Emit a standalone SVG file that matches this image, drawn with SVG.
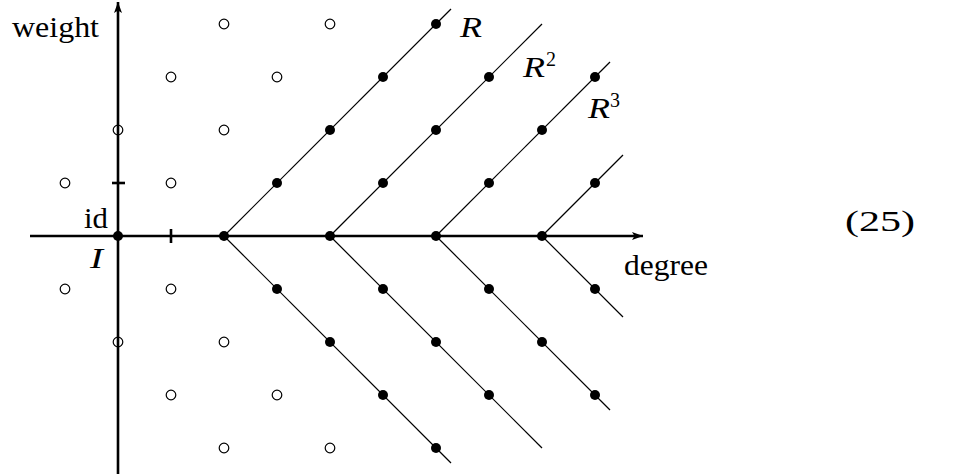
<svg xmlns="http://www.w3.org/2000/svg" width="971" height="474" viewBox="0 0 971 474">
<style>
  .axis { stroke:#000; stroke-width:2.6; fill:none; }
  .tick { stroke:#000; stroke-width:2.6; }
  .ray { stroke:#000; stroke-width:1.2; fill:none; }
  .full { fill:#000; }
  .open { fill:none; stroke:#000; stroke-width:1.2; }
  .t { font-family:"Liberation Serif","Times New Roman",Times,serif; font-size:29px; fill:#000; }
  .it { font-style:italic; font-size:30px; }
  .sup { font-family:"Liberation Serif","Times New Roman",Times,serif; font-size:20px; fill:#000; }
</style>
<defs>
  <marker id="arr" markerWidth="12" markerHeight="10" refX="11" refY="5" orient="auto" markerUnits="userSpaceOnUse">
    <path d="M0,1 L11,5 L0,9 L2.5,5 Z" fill="#000"/>
  </marker>
</defs>
<rect width="971" height="474" fill="#fff"/>

<g id="connectors">
  <line class="ray" x1="224" y1="236" x2="451" y2="9"/>
  <line class="ray" x1="330" y1="236" x2="542" y2="24"/>
  <line class="ray" x1="436" y1="236" x2="610" y2="62"/>
  <line class="ray" x1="542" y1="236" x2="623" y2="155"/>
  <line class="ray" x1="224" y1="236" x2="451" y2="463"/>
  <line class="ray" x1="330" y1="236" x2="542" y2="448"/>
  <line class="ray" x1="436" y1="236" x2="610" y2="410"/>
  <line class="ray" x1="542" y1="236" x2="623" y2="317"/>
</g>

<g id="axes">
  <line class="axis" x1="30" y1="236" x2="643" y2="236" marker-end="url(#arr)"/>
  <line class="axis" x1="118" y1="474" x2="118" y2="2" marker-end="url(#arr)"/>
  <line class="tick" x1="112" y1="183" x2="125" y2="183"/>
  <line class="tick" x1="171" y1="229" x2="171" y2="243"/>
</g>

<g id="open-points">
  <circle class="open" cx="224" cy="24" r="4.8"/>
  <circle class="open" cx="330" cy="24" r="4.8"/>
  <circle class="open" cx="171" cy="77" r="4.8"/>
  <circle class="open" cx="277" cy="77" r="4.8"/>
  <circle class="open" cx="118" cy="130" r="4.8"/>
  <circle class="open" cx="224" cy="130" r="4.8"/>
  <circle class="open" cx="65" cy="183" r="4.8"/>
  <circle class="open" cx="171" cy="183" r="4.8"/>
  <circle class="open" cx="65" cy="289" r="4.8"/>
  <circle class="open" cx="171" cy="289" r="4.8"/>
  <circle class="open" cx="118" cy="342" r="4.8"/>
  <circle class="open" cx="224" cy="342" r="4.8"/>
  <circle class="open" cx="171" cy="395" r="4.8"/>
  <circle class="open" cx="277" cy="395" r="4.8"/>
  <circle class="open" cx="224" cy="448" r="4.8"/>
  <circle class="open" cx="330" cy="448" r="4.8"/>
</g>

<g id="full-points">
  <circle class="full" cx="118" cy="236" r="5"/>
  <circle class="full" cx="224" cy="236" r="5"/>
  <circle class="full" cx="330" cy="236" r="5"/>
  <circle class="full" cx="436" cy="236" r="5"/>
  <circle class="full" cx="542" cy="236" r="5"/>
  <circle class="full" cx="277" cy="183" r="5"/>
  <circle class="full" cx="383" cy="183" r="5"/>
  <circle class="full" cx="489" cy="183" r="5"/>
  <circle class="full" cx="595" cy="183" r="5"/>
  <circle class="full" cx="330" cy="130" r="5"/>
  <circle class="full" cx="436" cy="130" r="5"/>
  <circle class="full" cx="542" cy="130" r="5"/>
  <circle class="full" cx="383" cy="77" r="5"/>
  <circle class="full" cx="489" cy="77" r="5"/>
  <circle class="full" cx="595" cy="77" r="5"/>
  <circle class="full" cx="436" cy="24" r="5"/>
  <circle class="full" cx="277" cy="289" r="5"/>
  <circle class="full" cx="383" cy="289" r="5"/>
  <circle class="full" cx="489" cy="289" r="5"/>
  <circle class="full" cx="595" cy="289" r="5"/>
  <circle class="full" cx="330" cy="342" r="5"/>
  <circle class="full" cx="436" cy="342" r="5"/>
  <circle class="full" cx="542" cy="342" r="5"/>
  <circle class="full" cx="383" cy="395" r="5"/>
  <circle class="full" cx="489" cy="395" r="5"/>
  <circle class="full" cx="595" cy="395" r="5"/>
  <circle class="full" cx="436" cy="448" r="5"/>
</g>

<g id="labels">
  <text class="t" x="12" y="37" textLength="87" lengthAdjust="spacingAndGlyphs">weight</text>
  <text class="t" x="624" y="275" textLength="84" lengthAdjust="spacingAndGlyphs">degree</text>
  <text class="t" x="84" y="228" textLength="24" lengthAdjust="spacingAndGlyphs">id</text>
  <text class="t it" x="90" y="268" textLength="13" lengthAdjust="spacingAndGlyphs">I</text>
  <text class="t it" x="460" y="37" textLength="22" lengthAdjust="spacingAndGlyphs">R</text>
  <text class="t it" x="523" y="77" textLength="22" lengthAdjust="spacingAndGlyphs">R</text>
  <text class="sup" x="546" y="66">2</text>
  <text class="t it" x="588" y="118" textLength="22" lengthAdjust="spacingAndGlyphs">R</text>
  <text class="sup" x="610" y="107">3</text>
  <text class="t" x="845" y="231" textLength="70" lengthAdjust="spacingAndGlyphs">(25)</text>
</g>
</svg>
